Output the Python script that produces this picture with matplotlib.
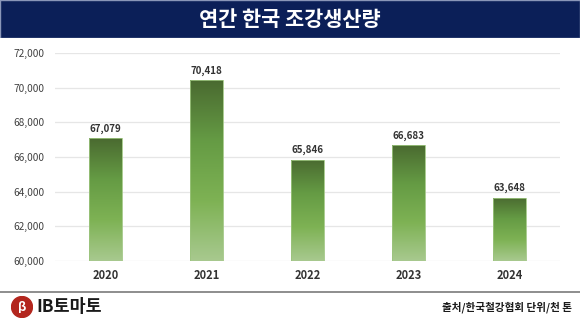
import matplotlib
matplotlib.use("Agg")
import matplotlib.pyplot as plt
import numpy as np
from matplotlib.colors import LinearSegmentedColormap
from matplotlib.patches import Rectangle, Circle

plt.rcParams["font.family"] = ["Noto Sans CJK KR", "DejaVu Sans"]

TITLE = "연간 한국 조강생산량"
SOURCE = "출처/한국철강협회 단위/천 톤"
years = ["2020", "2021", "2022", "2023", "2024"]
production = [67079, 70418, 65846, 66683, 63648]
yticks = [60000, 62000, 64000, 66000, 68000, 70000, 72000]

fig = plt.figure(figsize=(5.8, 3.24), dpi=100)
fig.patch.set_facecolor("white")

# title banner
banner = fig.add_axes([0, 1 - 38 / 324, 1, 38 / 324])
banner.set_axis_off()
banner.add_patch(Rectangle((0, 0), 1, 1, transform=banner.transAxes,
                           facecolor="#0b1f58", edgecolor="#8a96b8", linewidth=1))
banner.text(0.5, 0.5, TITLE, transform=banner.transAxes, ha="center", va="center",
            color="white", fontsize=15, fontweight="bold")

ax = fig.add_axes([55 / 580, 63 / 324, 505 / 580, 208 / 324])
ymin, ymax = 60000, 72000
ax.set_xlim(-0.5, len(years) - 0.5)
ax.set_ylim(ymin, ymax)
ax.set_yticks(yticks)
ax.set_yticklabels([f"{v:,}" for v in yticks])
ax.set_xticks(range(len(years)))
ax.set_xticklabels(years, fontweight="bold")
ax.tick_params(axis="y", length=0, labelsize=7.3, colors="#404040", pad=7.5)
ax.tick_params(axis="x", length=0, labelsize=8, colors="#333333", pad=6)
for spine in ax.spines.values():
    spine.set_visible(False)
ax.grid(axis="y", color="#e6e6e6", linewidth=0.9)
ax.set_axisbelow(True)

cmap = LinearSegmentedColormap.from_list(
    "green", ["#a8c98f", "#7eb254", "#659b44", "#4a6a30"])
grad = np.linspace(0, 1, 256).reshape(-1, 1)
width = 0.32
bars = ax.bar(range(len(years)), production, width=width, bottom=0,
              color="none", edgecolor="#9cc47e", linewidth=0.6, zorder=3)
for i, (b, v) in enumerate(zip(bars, production)):
    img = ax.imshow(grad, cmap=cmap, origin="lower", aspect="auto",
                    extent=[i - width / 2, i + width / 2, ymin, v], zorder=2)
    img.set_clip_path(b)
    ax.text(i, v + 250, f"{v:,}", ha="center", va="bottom", fontsize=7,
            fontweight="bold", color="#333333")
ax.set_xlim(-0.5, len(years) - 0.5)
ax.set_ylim(ymin, ymax)

# footer
fig.add_artist(plt.Line2D([0, 1], [1 - 292 / 324, 1 - 292 / 324],
                          color="#7a7a7a", linewidth=1.2))
logo = fig.add_axes([11 / 580, 1 - 318 / 324, 22 / 580, 22 / 324])
logo.set_axis_off()
logo.set_xlim(-1, 1)
logo.set_ylim(-1, 1)
logo.add_patch(Circle((0, 0), 0.95, color="#b3261e"))
logo.text(0.05, -0.05, "β", ha="center", va="center", color="white",
          fontsize=9, fontweight="bold")
fig.text(36 / 580, 1 - 307 / 324, "IB토마토", ha="left", va="center",
         fontsize=12.5, fontweight="bold", color="#1a1a1a")
fig.text(572 / 580, 1 - 307 / 324, SOURCE, ha="right", va="center",
         fontsize=7.6, fontweight="bold", color="#1a1a1a")

fig.savefig("out.png", dpi=100, facecolor="white")
